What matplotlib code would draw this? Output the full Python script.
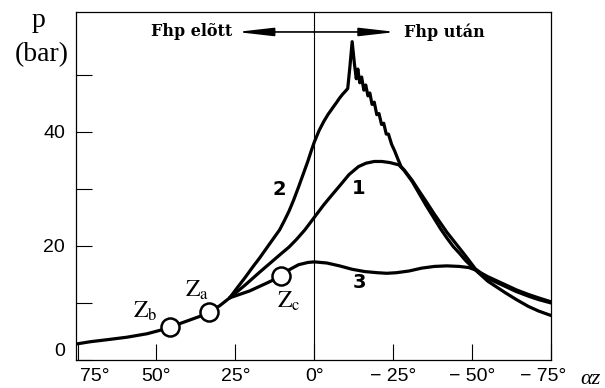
import numpy as np
import matplotlib.pyplot as plt
from matplotlib.transforms import ScaledTranslation

plt.rcParams['mathtext.fontset'] = 'stix'

# common part of all three pressure curves (crank angle in degrees, p in bar)
common_deg = [75.5, 71, 65, 59.3, 53, 48.9, 45.7, 42.5, 40, 36, 33.4, 30, 26.8]
common_p = [2.8, 3.2, 3.6, 4.0, 4.6, 5.2, 5.8, 6.4, 6.9, 7.7, 8.4, 9.5, 10.9]

curve1_deg = [26.8, 22, 17.3, 11, 8, 5.7, 3, 0, -3, -5.7, -8, -11, -14, -16.4, -19, -21.4, -24,
              -26.8, -28.5, -31, -33, -35.3, -38, -40, -42, -44, -46, -48, -51,
              -55, -60.5, -64, -67.8, -71, -75]
curve1_p = [10.9, 13.1, 15.4, 18.4, 19.8, 21.1, 22.8, 25.0, 27.2, 29.0, 30.5, 32.5, 33.9, 34.5, 34.8, 34.8, 34.6,
            34.2, 33.2, 31.3, 29.4, 27.2, 24.8, 23.0, 21.4, 19.9, 18.7, 17.4, 15.8,
            13.8, 11.8, 10.6, 9.4, 8.6, 7.8]

curve2_deg = [26.8, 24.5, 22, 19.5, 17.3, 15, 13.2, 11, 9.5, 8, 6.5, 5, 3.5, 2, 1, 0, -1.5, -3,
              -4.3, -5.7, -7, -8, -9, -10, -10.6, -11.3, -12.0,
              -12.7, -13.3, -13.8, -14.4, -15.0, -15.7, -16.3, -17.0, -17.6, -18.3, -19.0,
              -19.8, -20.5, -21.3, -22.0, -22.8, -23.5, -24.5, -25.5, -26.5, -27.5, -28.5,
              -31, -33, -35.3, -38, -40, -42, -44, -46, -48, -51,
              -55, -60.5, -64, -67.8, -71, -75]
curve2_p = [10.9, 12.6, 14.4, 16.3, 17.9, 19.7, 21.1, 22.8, 24.4, 26.1, 28.1, 30.3, 32.6, 34.9, 36.6, 38.2, 40.2, 41.8,
            43.0, 44.1, 45.1, 45.9, 46.6, 47.2, 47.6, 51.5, 55.8,
            52.0, 49.3, 51.0, 48.6, 49.6, 47.3, 48.2, 46.3, 46.8, 44.8, 45.2,
            43.0, 43.2, 41.3, 41.5, 39.6, 39.6, 37.8, 36.6, 35.2, 33.9, 33.3,
            31.5, 29.8, 27.9, 25.6, 24.0, 22.4, 21.0, 19.6, 18.2, 16.0,
            14.3, 12.9, 12.0, 11.2, 10.6, 10.0]

curve3_deg = [26.8, 20.5, 15, 10.4, 8, 5, 2, 0, -4, -8, -12, -16, -20, -23, -26, -30, -34,
              -38, -42, -46, -49, -51, -55, -60.5, -64, -67.8, -71, -75]
curve3_p = [10.9, 12.1, 13.5, 14.7, 15.8, 16.7, 17.1, 17.2, 17.0, 16.5, 15.9, 15.5, 15.3, 15.2, 15.3, 15.6, 16.1,
            16.4, 16.5, 16.4, 16.2, 15.8, 14.6, 13.2, 12.3, 11.5, 10.9, 10.2]

# ignition points
z_deg = [45.7, 33.4, 10.4]
z_p = [5.8, 8.4, 14.7]
z_names = ['b', 'a', 'c']

xtick_pos = [75, 50, 25, 0, -25, -50, -75]
xtick_lab = ['75°', '50°', '25°', '0°', '− 25°', '− 50°', '− 75°']
ytick_pos = [0, 10, 20, 30, 40, 50]
ytick_lab = ['0', '', '20', '', '40', '']

fig = plt.figure(figsize=(6.05, 3.88), dpi=100)
ax = fig.add_axes([76 / 605, 28 / 388, 475 / 605, 348 / 388])

ax.axvline(0, color='black', lw=0.8, zorder=1)

lw = 2.3
ax.plot(common_deg, common_p, color='black', lw=lw, solid_joinstyle='round', zorder=3)
for xs, ys in [(curve1_deg, curve1_p), (curve2_deg, curve2_p), (curve3_deg, curve3_p)]:
    ax.plot(xs, ys, color='black', lw=lw, solid_joinstyle='round', solid_capstyle='round', zorder=3)

ax.plot(z_deg, z_p, 'o', ms=13, mfc='white', mec='black', mew=1.8, zorder=4)

zlabel_pos = [(53.6, 8.6), (37.2, 12.3), (8.2, 10.4)]
for (lx, ly), n in zip(zlabel_pos, z_names):
    ax.text(lx, ly, r'$\mathrm{Z_{%s}}$' % n, fontsize=17, ha='center', va='center')

num_font = dict(fontsize=14, fontweight='bold', family='DejaVu Sans', ha='center', va='center')
ax.text(11, 29.8, '2', **num_font)
ax.text(-13.9, 30.0, '1', **num_font)
ax.text(-14.2, 13.5, '3', **num_font)

# before / after TDC arrows
arr = dict(arrowstyle='-|>,head_length=2.2,head_width=0.25', color='black', lw=1.2,
           mutation_scale=10, shrinkA=0, shrinkB=0)
ax.annotate('', xy=(24.6, 57.5), xytext=(0, 57.5), arrowprops=arr)
ax.annotate('', xy=(-25.9, 57.5), xytext=(0, 57.5), arrowprops=arr)
ax.text(26, 57.5, 'Fhp elõtt', family='DejaVu Serif', fontweight='bold', fontsize=11.5,
        ha='right', va='center')
ax.text(-28.4, 57.5, 'Fhp után', family='DejaVu Serif', fontweight='bold', fontsize=11.5,
        ha='left', va='center')

ax.set_xlim(75.5, -75)
ax.set_ylim(0, 61)
ax.set_xticks(xtick_pos)
ax.set_xticklabels(xtick_lab, family='Liberation Sans', fontsize=14)
ax.set_yticks(ytick_pos)
ax.set_yticklabels(ytick_lab, family='Liberation Sans', fontsize=14)
ax.tick_params(direction='in', length=11.5, width=0.8, top=False, right=False)
ax.tick_params(axis='x', pad=6)
ax.tick_params(axis='y', pad=8)
for s in ax.spines.values():
    s.set_linewidth(0.9)

xl = ax.get_xticklabels()
xl[0].set_transform(xl[0].get_transform() + ScaledTranslation(0.17, 0, fig.dpi_scale_trans))
xl[-1].set_transform(xl[-1].get_transform() + ScaledTranslation(-0.08, 0, fig.dpi_scale_trans))
yl = ax.get_yticklabels()
yl[0].set_transform(yl[0].get_transform() + ScaledTranslation(0, 0.10, fig.dpi_scale_trans))

fig.text(39 / 605, 1 - 27 / 388, 'p', family='Liberation Serif', fontsize=20, ha='center', va='baseline')
fig.text(42 / 605, 1 - 61 / 388, '(bar)', family='Liberation Serif', fontsize=20, ha='center', va='baseline')
fig.text(590 / 605, 1 - 380 / 388, 'αz', family='Liberation Serif', style='italic', fontsize=16,
         ha='center', va='center')

fig.savefig('out.png', dpi=100)
